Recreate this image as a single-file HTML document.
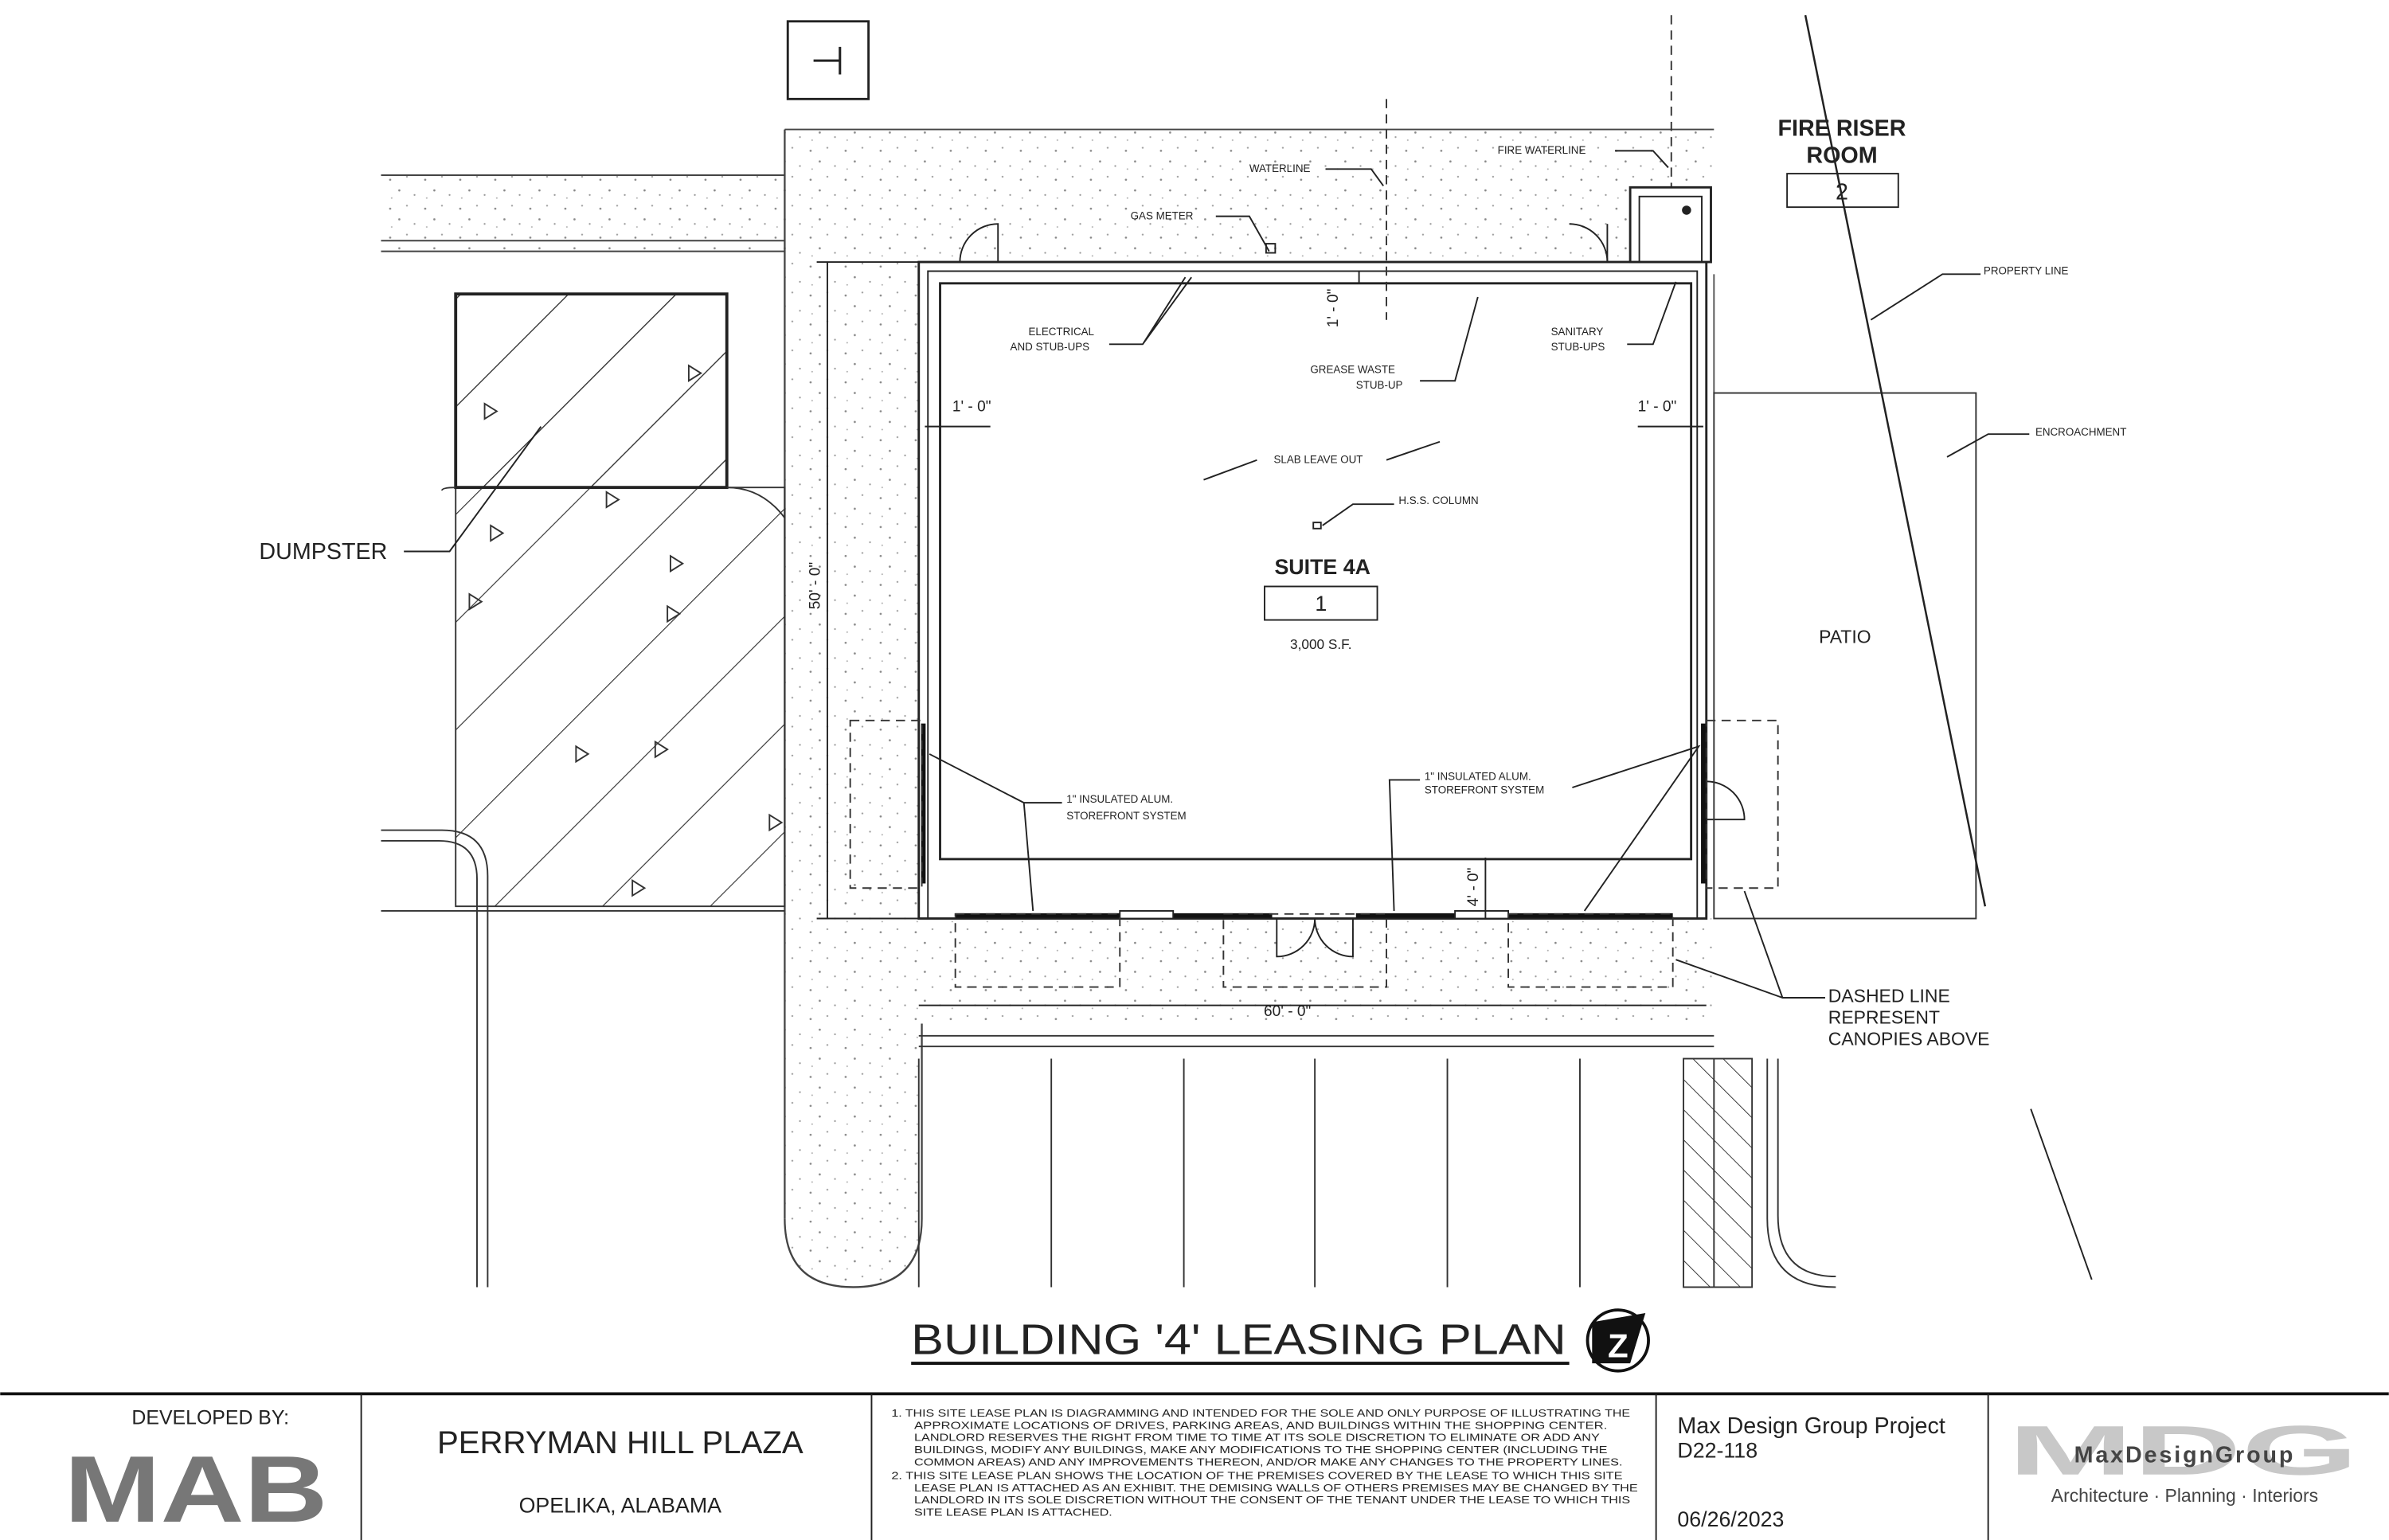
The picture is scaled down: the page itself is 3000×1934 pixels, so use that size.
<!DOCTYPE html>
<html><head><meta charset="utf-8"><style>
html,body{margin:0;padding:0;background:#fff;}
svg{display:block;}
text{font-family:"Liberation Sans",sans-serif;fill:#222;}
</style></head><body>
<svg width="3000" height="1934" viewBox="0 0 1568 1011" xmlns="http://www.w3.org/2000/svg">
<defs>
<pattern id="st" width="23" height="19" patternUnits="userSpaceOnUse">
<rect width="23" height="19" fill="#fff"/>
<circle cx="3" cy="4" r="0.7" fill="#888"/><circle cx="14" cy="2" r="0.6" fill="#999"/>
<circle cx="9" cy="11" r="0.7" fill="#888"/><circle cx="19" cy="14" r="0.6" fill="#999"/>
<circle cx="4" cy="16" r="0.5" fill="#aaa"/>
</pattern>
<pattern id="hx" width="50" height="50" patternUnits="userSpaceOnUse" patternTransform="rotate(45)">
<line x1="0" y1="0" x2="0" y2="50" stroke="#333" stroke-width="1.2"/>
</pattern>
<pattern id="hx2" width="14" height="14" patternUnits="userSpaceOnUse" patternTransform="rotate(-45)">
<line x1="0" y1="0" x2="0" y2="14" stroke="#333" stroke-width="1"/>
</pattern>
</defs>
<rect width="1568" height="1011" fill="#fff"/>

<path d="M250 115 H515 V85 H1125 V180 H605 V800 Q605 845 560 845 Q515 845 515 800 V165 H250 Z" fill="url(#st)"/>
<path d="M603 603 H1125 V672 H603 Z" fill="url(#st)"/>
<path d="M1125 180 V258" stroke="#555" fill="none"/>
<line x1="515" y1="85" x2="515" y2="800" stroke="#444" stroke-width="1.2"/>
<path d="M515 800 Q515 845 560 845 Q605 845 605 800 V672" stroke="#444" fill="none" stroke-width="1.2"/>
<line x1="250" y1="115" x2="515" y2="115" stroke="#444"/>
<line x1="250" y1="158" x2="515" y2="158" stroke="#444"/>
<line x1="250" y1="165" x2="515" y2="165" stroke="#444"/>
<line x1="515" y1="85" x2="1125" y2="85" stroke="#444"/>

<rect x="517" y="14" width="53" height="51" fill="#fff" stroke="#222" stroke-width="1.5"/>
<text x="543" y="49" font-size="26" text-anchor="middle">⊣</text>

<path d="M299 193 H477 V320 H515 V595 H299 Z" fill="url(#hx)" stroke="#333"/>
<rect x="299" y="193" width="178" height="127" fill="url(#hx)" stroke="#222" stroke-width="2"/>
<path d="M299 320 Q290 320 290 322 M477 320 Q500 320 515 340" stroke="#333" fill="none"/>
<g fill="none" stroke="#333">
<path d="M318 265 l8 5 l-8 5z"/><path d="M452 240 l8 5 l-8 5z"/><path d="M398 323 l8 5 l-8 5z"/>
<path d="M322 345 l8 5 l-8 5z"/><path d="M440 365 l8 5 l-8 5z"/><path d="M308 390 l8 5 l-8 5z"/>
<path d="M438 398 l8 5 l-8 5z"/><path d="M378 490 l8 5 l-8 5z"/><path d="M430 487 l8 5 l-8 5z"/>
<path d="M505 535 l8 5 l-8 5z"/><path d="M415 578 l8 5 l-8 5z"/>
</g>
<text x="170" y="367" font-size="15">DUMPSTER</text>
<path d="M265 362 L295 362 L355 280" stroke="#222" fill="none"/>

<path d="M250 545 H290 Q320 545 320 575 V845" stroke="#333" fill="none"/>
<path d="M250 552 H288 Q313 552 313 577 V845" stroke="#333" fill="none"/>
<path d="M250 598 H515" stroke="#333" fill="none"/>

<rect x="603" y="172" width="517" height="431" fill="#fff" stroke="#222" stroke-width="1.5"/>
<rect x="609" y="178" width="505" height="425" fill="none" stroke="#222" stroke-width="1"/>
<rect x="617" y="186" width="493" height="378" fill="none" stroke="#222" stroke-width="1.5"/>
<path d="M630 172 A25 25 0 0 1 655 147 V172" stroke="#222" fill="none"/>
<path d="M1055 172 A25 25 0 0 0 1030 147" stroke="#222" fill="none"/>
<line x1="1055" y1="147" x2="1055" y2="172" stroke="#222"/>
<g stroke="#111" stroke-width="3">
<line x1="627" y1="601" x2="835" y2="601"/><line x1="890" y1="601" x2="1098" y2="601"/>
<line x1="606" y1="475" x2="606" y2="580"/><line x1="1118" y1="475" x2="1118" y2="580"/>
</g>
<rect x="735" y="598" width="35" height="5" fill="#fff" stroke="#222"/>
<rect x="955" y="598" width="35" height="5" fill="#fff" stroke="#222"/>
<path d="M838 603 V628 A25 25 0 0 0 863 603 M888 603 V628 A25 25 0 0 1 863 603" stroke="#222" fill="none"/>
<path d="M1120 538 H1145 A25 25 0 0 0 1120 513" stroke="#222" fill="none"/>

<g fill="none" stroke="#333" stroke-dasharray="6 4">
<rect x="558" y="473" width="47" height="110"/><rect x="1120" y="473" width="47" height="110"/>
<rect x="627" y="600" width="108" height="48"/><rect x="803" y="600" width="107" height="48"/>
<rect x="990" y="600" width="108" height="48"/>
<line x1="910" y1="65" x2="910" y2="210"/><line x1="1097" y1="10" x2="1097" y2="125"/>
</g>

<rect x="1070" y="123" width="53" height="49" fill="#fff" stroke="#222" stroke-width="1.5"/>
<rect x="1076" y="129" width="41" height="43" fill="none" stroke="#222"/>
<circle cx="1107" cy="138" r="3" fill="#222"/>
<text x="1209" y="89" font-size="15" font-weight="bold" text-anchor="middle">FIRE RISER</text>
<text x="1209" y="107" font-size="15" font-weight="bold" text-anchor="middle">ROOM</text>
<rect x="1173" y="114" width="73" height="22" fill="#fff" stroke="#222"/>
<text x="1209" y="131" font-size="15" text-anchor="middle">2</text>

<rect x="1125" y="258" width="172" height="345" fill="none" stroke="#333"/>
<line x1="1185" y1="10" x2="1303" y2="595" stroke="#222" stroke-width="1.3"/>
<line x1="1333" y1="728" x2="1373" y2="840" stroke="#222"/>
<text x="1211" y="422" font-size="12" text-anchor="middle">PATIO</text>

<g stroke="#222" fill="none">
<line x1="543" y1="172" x2="543" y2="603"/><line x1="536" y1="172" x2="603" y2="172"/><line x1="536" y1="603" x2="603" y2="603"/>
<line x1="603" y1="660" x2="1120" y2="660"/>
<line x1="607" y1="280" x2="650" y2="280"/><line x1="1075" y1="280" x2="1118" y2="280"/>
<line x1="975" y1="563" x2="975" y2="603"/><line x1="892" y1="178" x2="892" y2="186"/>
</g>
<g font-size="10">
<text x="538" y="400" transform="rotate(-90 538 400)">50' - 0"</text>
<text x="845" y="667" text-anchor="middle">60' - 0"</text>
<text x="625" y="270">1' - 0"</text><text x="1075" y="270">1' - 0"</text>
<text x="970" y="595" transform="rotate(-90 970 595)">4' - 0"</text>
<text x="878" y="215" transform="rotate(-90 878 215)">1' - 0"</text>
</g>

<g font-size="7">
<text x="820" y="113">WATERLINE</text>
<text x="983" y="101">FIRE WATERLINE</text>
<text x="742" y="144">GAS METER</text>
<text x="675" y="220">ELECTRICAL</text><text x="663" y="230">AND STUB-UPS</text>
<text x="860" y="245">GREASE WASTE</text><text x="890" y="255">STUB-UP</text>
<text x="1018" y="220">SANITARY</text><text x="1018" y="230">STUB-UPS</text>
<text x="836" y="304">SLAB LEAVE OUT</text>
<text x="918" y="331">H.S.S. COLUMN</text>
<text x="1302" y="180">PROPERTY LINE</text>
<text x="1336" y="286">ENCROACHMENT</text>
<text x="700" y="527">1" INSULATED ALUM.</text><text x="700" y="538">STOREFRONT SYSTEM</text>
<text x="935" y="512">1" INSULATED ALUM.</text><text x="935" y="521">STOREFRONT SYSTEM</text>
</g>
<g stroke="#222" fill="none">
<path d="M870 111 H900 L908 122"/><path d="M1060 99 H1085 L1095 110"/>
<path d="M798 142 H820 L833 165"/>
<path d="M728 226 H750 L782 182 M750 226 L778 182"/>
<path d="M932 250 H955 L970 195"/><path d="M1068 226 H1085 L1100 185"/>
<path d="M825 302 L790 315 M910 302 L945 290"/><path d="M915 331 H888 L868 345"/>
<path d="M1300 180 H1275 L1228 210"/><path d="M1332 285 H1305 L1278 300"/>
<path d="M697 527 H672 L610 495 M672 527 L678 598"/>
<path d="M932 512 H912 L915 598 M1032 517 L1115 490 L1040 598"/>
<path d="M1198 655 L1170 655 L1145 585 M1170 655 L1100 630"/>
</g>
<rect x="862" y="343" width="5" height="4" fill="none" stroke="#222"/>
<rect x="831" y="160" width="6" height="6" fill="none" stroke="#222"/>

<text x="868" y="377" font-size="14" font-weight="bold" text-anchor="middle">SUITE 4A</text>
<rect x="830" y="385" width="74" height="22" fill="#fff" stroke="#222"/>
<text x="867" y="401" font-size="14" text-anchor="middle">1</text>
<text x="867" y="426" font-size="9" text-anchor="middle">3,000 S.F.</text>
<g font-size="12"><text x="1200" y="658">DASHED LINE</text><text x="1200" y="672">REPRESENT</text><text x="1200" y="686">CANOPIES ABOVE</text></g>

<line x1="603" y1="680" x2="1125" y2="680" stroke="#333"/>
<line x1="603" y1="687" x2="1125" y2="687" stroke="#333"/>
<g stroke="#333"><line x1="603" y1="695" x2="603" y2="845"/><line x1="690" y1="695" x2="690" y2="845"/><line x1="777" y1="695" x2="777" y2="845"/><line x1="863" y1="695" x2="863" y2="845"/><line x1="950" y1="695" x2="950" y2="845"/><line x1="1037" y1="695" x2="1037" y2="845"/><line x1="1125" y1="695" x2="1125" y2="845"/></g>
<rect x="1105" y="695" width="45" height="150" fill="url(#hx2)" stroke="#333"/>
<path d="M1160 695 V800 Q1160 845 1205 845" stroke="#333" fill="none"/>
<path d="M1167 695 V798 Q1167 838 1205 838" stroke="#333" fill="none"/>

<text x="598" y="889" font-size="28" textLength="430" lengthAdjust="spacingAndGlyphs">BUILDING '4' LEASING PLAN</text>
<line x1="598" y1="895" x2="1030" y2="895" stroke="#111" stroke-width="2"/>
<circle cx="1062" cy="880" r="20" fill="#fff" stroke="#111" stroke-width="2"/>
<path d="M1045 868 L1080 862 L1070 895 L1045 895 Z" fill="#111"/>
<text x="1062" y="891" font-size="22" font-weight="bold" text-anchor="middle" style="fill:#fff">Z</text>

<line x1="0" y1="915" x2="1568" y2="915" stroke="#111" stroke-width="2"/>
<g stroke="#222"><line x1="237" y1="915" x2="237" y2="1011"/><line x1="572" y1="915" x2="572" y2="1011"/><line x1="1087" y1="915" x2="1087" y2="1011"/><line x1="1305" y1="915" x2="1305" y2="1011"/></g>
<text x="138" y="935" font-size="13" text-anchor="middle">DEVELOPED BY:</text>
<text x="42" y="999" font-size="62" font-weight="bold" textLength="173" lengthAdjust="spacingAndGlyphs" style="fill:#777">MAB</text>
<text x="407" y="954" font-size="21" text-anchor="middle">PERRYMAN HILL PLAZA</text>
<text x="407" y="993" font-size="14" text-anchor="middle">OPELIKA, ALABAMA</text>
<g font-size="6.5">
<text x="585" y="930" textLength="485" lengthAdjust="spacingAndGlyphs">1.  THIS SITE LEASE PLAN IS DIAGRAMMING AND INTENDED FOR THE SOLE AND ONLY PURPOSE OF ILLUSTRATING THE</text>
<text x="600" y="938" textLength="455" lengthAdjust="spacingAndGlyphs">APPROXIMATE LOCATIONS OF DRIVES, PARKING AREAS, AND BUILDINGS WITHIN THE SHOPPING CENTER.</text>
<text x="600" y="946" textLength="450" lengthAdjust="spacingAndGlyphs">LANDLORD RESERVES THE RIGHT FROM TIME TO TIME AT ITS SOLE DISCRETION TO ELIMINATE OR ADD ANY</text>
<text x="600" y="954" textLength="455" lengthAdjust="spacingAndGlyphs">BUILDINGS, MODIFY ANY BUILDINGS, MAKE ANY MODIFICATIONS TO THE SHOPPING CENTER (INCLUDING THE</text>
<text x="600" y="962" textLength="465" lengthAdjust="spacingAndGlyphs">COMMON AREAS) AND ANY IMPROVEMENTS THEREON, AND/OR MAKE ANY CHANGES TO THE PROPERTY LINES.</text>
<text x="585" y="971" textLength="480" lengthAdjust="spacingAndGlyphs">2.  THIS SITE LEASE PLAN SHOWS THE LOCATION OF THE PREMISES COVERED BY THE LEASE TO WHICH THIS SITE</text>
<text x="600" y="979" textLength="475" lengthAdjust="spacingAndGlyphs">LEASE PLAN IS ATTACHED AS AN EXHIBIT. THE DEMISING WALLS OF OTHERS PREMISES MAY BE CHANGED BY THE</text>
<text x="600" y="987" textLength="470" lengthAdjust="spacingAndGlyphs">LANDLORD IN ITS SOLE DISCRETION WITHOUT THE CONSENT OF THE TENANT UNDER THE LEASE TO WHICH THIS</text>
<text x="600" y="995" textLength="130" lengthAdjust="spacingAndGlyphs">SITE LEASE PLAN IS ATTACHED.</text>
</g>
<text x="1101" y="941" font-size="15">Max Design Group Project</text>
<text x="1101" y="957" font-size="14">D22-118</text>
<text x="1101" y="1002" font-size="14">06/26/2023</text>
<text x="1318" y="968" font-size="46" font-weight="bold" textLength="230" lengthAdjust="spacingAndGlyphs" style="fill:#c8c8c8">MDG</text>
<text x="1434" y="960" font-size="15" font-weight="bold" text-anchor="middle" letter-spacing="1.5" style="fill:#444">MaxDesignGroup</text>
<text x="1434" y="986" font-size="12" text-anchor="middle" style="fill:#444">Architecture · Planning · Interiors</text>
</svg>
</body></html>
